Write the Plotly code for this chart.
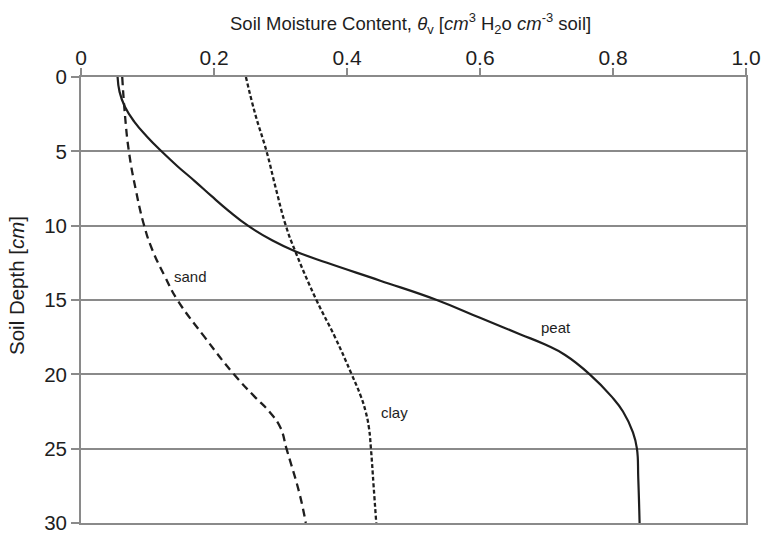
import plotly.graph_objects as go

# Soil depth (cm) and volumetric moisture content for each soil
peat_depth = [0, 1, 2, 3, 4, 5, 6, 7, 8, 9, 10, 11, 11.7, 12.5, 13.7, 15, 16.2, 17.3, 18, 18.7, 20, 21.5, 22.5, 23.9, 25, 27, 30]
peat_theta = [0.055, 0.058, 0.066, 0.08, 0.099, 0.121, 0.145, 0.171, 0.196, 0.222, 0.251, 0.288, 0.321, 0.37, 0.45, 0.535, 0.60, 0.66, 0.698, 0.728, 0.765, 0.798, 0.815, 0.83, 0.836, 0.838, 0.84]

clay_depth = [0, 2.5, 5, 7.5, 10, 11.7, 15, 17.5, 20, 21.5, 22.5, 23.6, 25, 27.5, 30]
clay_theta = [0.248, 0.262, 0.279, 0.293, 0.308, 0.322, 0.354, 0.382, 0.407, 0.421, 0.428, 0.433, 0.436, 0.44, 0.444]

sand_depth = [0, 2.5, 5, 7.5, 10, 11.6, 13.4, 15, 17.5, 20, 21.5, 22.5, 23.6, 25, 28.1, 30]
sand_theta = [0.062, 0.066, 0.072, 0.082, 0.095, 0.107, 0.126, 0.145, 0.186, 0.23, 0.261, 0.283, 0.3, 0.309, 0.329, 0.338]

x_ticks = [0, 0.2, 0.4, 0.6, 0.8, 1.0]
x_tick_labels = ["0", "0.2", "0.4", "0.6", "0.8", "1.0"]
y_ticks = [0, 5, 10, 15, 20, 25, 30]
y_tick_labels = ["0", "5", "10", "15", "20", "25", "30"]

labels = ["sand", "clay", "peat"]
label_x = [0.165, 0.472, 0.714]
label_y = [13.4, 22.55, 16.85]

FONT = "Liberation Sans, Arial, Helvetica, sans-serif"
INK = "#1e1e1e"
GRID = "#8a8a8a"

fig = go.Figure()
fig.add_trace(go.Scatter(x=sand_theta, y=sand_depth, mode="lines", name="sand",
                         line=dict(color=INK, width=2.3, dash="8px,5px", shape="spline", smoothing=1.3)))
fig.add_trace(go.Scatter(x=clay_theta, y=clay_depth, mode="lines", name="clay",
                         line=dict(color=INK, width=2.3, dash="4px,2.5px", shape="spline", smoothing=1.3)))
fig.add_trace(go.Scatter(x=peat_theta, y=peat_depth, mode="lines", name="peat",
                         line=dict(color=INK, width=2.2, shape="spline", smoothing=1.3)))

for t, lx, ly in zip(labels, label_x, label_y):
    fig.add_annotation(x=lx, y=ly, xref="x", yref="y", text=t, showarrow=False,
                       font=dict(family=FONT, size=15, color=INK))

fig.add_annotation(
    xref="paper", yref="paper", x=0.4955, y=1.0, yshift=54,
    text="Soil Moisture Content, <i>θ</i><sub>v</sub> [<i>cm</i><sup>3</sup> H<sub>2</sub>o <i>cm</i><sup>-3</sup> soil]",
    showarrow=False, font=dict(family=FONT, size=18.5, color=INK), xanchor="center", yanchor="middle")

fig.add_annotation(
    xref="paper", yref="paper", x=0, xshift=-65, y=0.5, yshift=14,
    text="Soil Depth [<i>cm</i>]", textangle=-90,
    showarrow=False, font=dict(family=FONT, size=20.5, color=INK), xanchor="center", yanchor="middle")

fig.update_layout(
    width=764, height=533,
    margin=dict(l=81, r=18, t=77, b=10),
    paper_bgcolor="white", plot_bgcolor="white",
    showlegend=False,
    font=dict(family=FONT, color=INK),
    xaxis=dict(range=[0, 1.0], side="top", tickvals=x_ticks, ticktext=x_tick_labels,
               ticks="outside", ticklen=7, tickwidth=1.5, tickcolor=GRID,
               showline=True, linecolor=GRID, linewidth=1.8, mirror=True, automargin=False,
               ticklabelstandoff=-5, ticklabeloverflow="allow",
               showgrid=False, zeroline=False, tickfont=dict(family=FONT, size=21, color=INK)),
    yaxis=dict(range=[30, 0], tickvals=y_ticks, ticktext=y_tick_labels,
               ticks="outside", ticklen=8, tickwidth=1.5, tickcolor=GRID,
               showline=True, linecolor=GRID, linewidth=1.8, mirror=True, automargin=False,
               ticklabeloverflow="allow",
               showgrid=True, gridcolor=GRID, gridwidth=1.8, zeroline=False,
               tickfont=dict(family=FONT, size=20.5, color=INK)),
)

fig.write_html("out.html")
